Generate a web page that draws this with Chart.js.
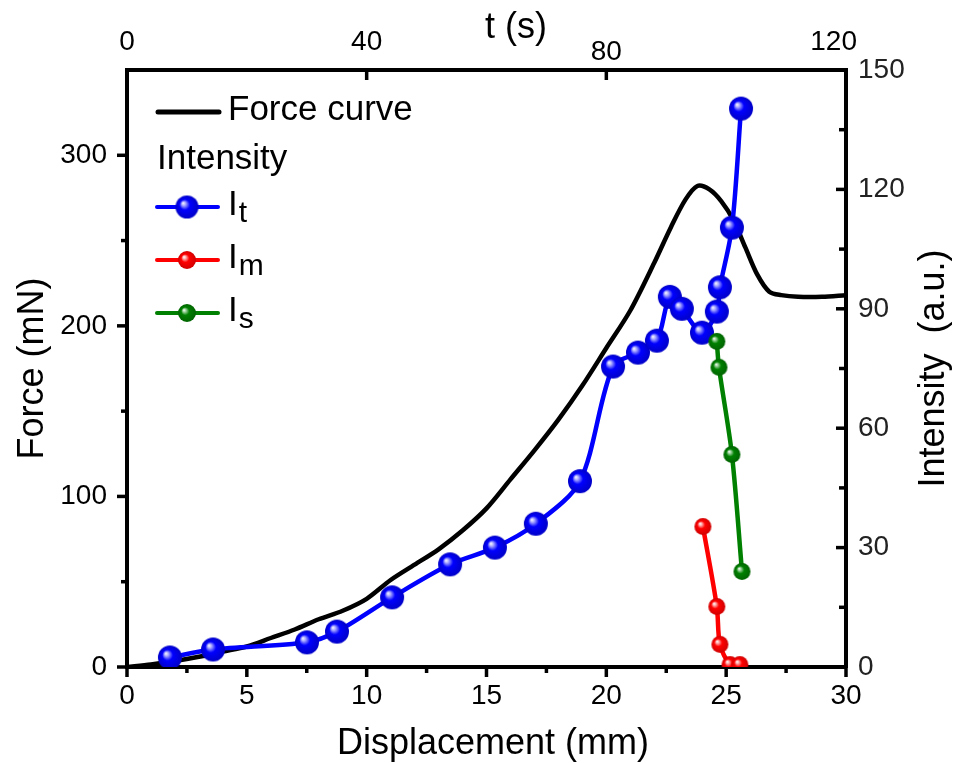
<!DOCTYPE html>
<html>
<head>
<meta charset="utf-8">
<script src="https://cdn.jsdelivr.net/npm/chart.js@4.4.1/dist/chart.umd.min.js"></script>
<style>
  html, body { margin: 0; padding: 0; background: #fff; }
  #wrap { width: 959px; height: 763px; }
</style>
</head>
<body>
<div id="wrap"><canvas id="chart"></canvas></div>
<script>
// courbe de force (deplacement en mm, force en mN)
const forceDisp = [0, 1, 2, 3, 4, 5, 6, 7, 8, 9, 10, 11, 12, 13, 14, 15, 16, 17, 18, 19, 20, 21, 22, 22.7, 23.3, 23.8, 24.3, 24.8, 25.3, 25.8, 26.3, 26.8, 27.3, 28, 29, 30];
const forceVal  = [0, 1.5, 3.5, 6, 9, 12, 17, 22, 28, 33, 40, 51, 60, 69, 80, 93, 110, 127, 145, 165, 187, 209, 237, 258, 274, 282, 280, 273, 262, 246, 230, 220, 218, 217, 217, 218];

// intensites (u.a.)
const itDisp = [1.79, 3.59, 7.51, 8.76, 11.06, 13.48, 15.35, 17.06, 18.9, 20.28, 21.32, 22.11, 22.65, 23.15, 23.99, 24.61, 24.74, 25.24, 25.62];
const itVal  = [2.4, 4.4, 6.2, 8.9, 17.5, 25.8, 30, 36, 46.7, 75.5, 79, 82, 93, 90, 84, 89.3, 95.4, 110.4, 140.3];

const imDisp = [24.03, 24.61, 24.74, 25.16, 25.57];
const imVal  = [35.3, 15.2, 5.7, 0.6, 0.6];

const isDisp = [24.61, 24.70, 25.24, 25.66];
const isVal  = [81.8, 75.3, 53.4, 24];

// graduations
const dispTicks = [0, 5, 10, 15, 20, 25, 30];
const forceTicks = [0, 100, 200, 300];
const intensityTicks = [0, 30, 60, 90, 120, 150];
const timeTicks = [0, 40, 80, 120];

const FONT = '"Liberation Sans", Arial, sans-serif';
Chart.defaults.font.family = FONT;
Chart.defaults.color = '#000';

const toPoints = (xs, ys) => xs.map((x, i) => ({ x: x, y: ys[i] }));
const midpoints = arr => arr.slice(1).map((v, i) => (v + arr[i]) / 2);

// petite sphere avec reflet (comme dans Origin)
function sphere(color, light, dark, r) {
  const c = document.createElement('canvas');
  const s = Math.ceil(r * 2) + 2;
  c.width = c.height = s;
  const g = c.getContext('2d');
  const m = s / 2;
  const grad = g.createRadialGradient(m - r * 0.35, m - r * 0.35, 0, m, m, r);
  grad.addColorStop(0, '#ffffff');
  grad.addColorStop(0.15, light);
  grad.addColorStop(0.45, color);
  grad.addColorStop(1, dark);
  g.fillStyle = grad;
  g.beginPath();
  g.arc(m, m, r, 0, Math.PI * 2);
  g.fill();
  return c;
}

const blueBall = sphere('#0000ff', '#b8b8ff', '#0000c8', 12);
const redBall = sphere('#ff0000', '#ffc0c0', '#d00000', 8.5);
const greenBall = sphere('#008000', '#b0dcb0', '#006400', 8.5);
const blueBallLeg = sphere('#0000ff', '#b8b8ff', '#0000c8', 11.5);
const redBallLeg = sphere('#ff0000', '#ffc0c0', '#d00000', 9);
const greenBallLeg = sphere('#008000', '#b0dcb0', '#006400', 9);

// ticks, titres et legende dessines a la main
const extras = {
  id: 'extras',
  afterDraw(chart) {
    const ctx = chart.ctx;
    const a = chart.chartArea;
    const s = chart.scales;
    ctx.save();
    ctx.strokeStyle = '#000';
    ctx.lineWidth = 3.5;

    function marks(scale, values, len, side) {
      values.forEach(v => {
        const p = scale.getPixelForValue(v);
        ctx.beginPath();
        if (side === 'bottom') { ctx.moveTo(p, a.bottom); ctx.lineTo(p, a.bottom + len); }
        if (side === 'top')    { ctx.moveTo(p, a.top); ctx.lineTo(p, a.top + len); }
        if (side === 'left')   { ctx.moveTo(a.left, p); ctx.lineTo(a.left - len, p); }
        if (side === 'right')  { ctx.moveTo(a.right, p); ctx.lineTo(a.right - len, p); }
        ctx.stroke();
      });
    }
    marks(s.x, dispTicks, 10, 'bottom');
    marks(s.x, midpoints(dispTicks), 6, 'bottom');
    marks(s.y, forceTicks, 10, 'left');
    marks(s.y, midpoints(forceTicks), 6, 'left');
    marks(s.y2, intensityTicks, 10, 'right');
    marks(s.y2, midpoints(intensityTicks), 7, 'right');
    marks(s.x2, timeTicks, 10, 'top');

    // etiquettes de l'axe du haut (le "80" est plus bas, le "120" decale a gauche dans l'original)
    ctx.fillStyle = '#000';
    ctx.font = '28px ' + FONT;
    ctx.textBaseline = 'middle';
    timeTicks.forEach((v, i) => {
      const p = s.x2.getPixelForValue(v);
      const last = i === timeTicks.length - 1;
      ctx.textAlign = last ? 'right' : 'center';
      ctx.fillText(String(v), last ? p + 11 : p, a.top - (v === 80 ? 18 : 28));
    });

    // titres des axes
    ctx.textAlign = 'center';
    ctx.font = '36px ' + FONT;
    ctx.fillText('t (s)', 516, 28);
    ctx.fillText('Displacement (mm)', 493, 744);
    ctx.save();
    ctx.translate(33, (a.top + a.bottom) / 2);
    ctx.rotate(-Math.PI / 2);
    ctx.fillText('Force (mN)', 0, 0);
    ctx.restore();
    ctx.save();
    ctx.translate(934, (a.top + a.bottom) / 2);
    ctx.rotate(-Math.PI / 2);
    ctx.fillText('Intensity  (a.u.)', 0, 0);
    ctx.restore();

    // legende
    ctx.textAlign = 'left';
    ctx.lineCap = 'round';
    ctx.strokeStyle = '#000';
    ctx.lineWidth = 5;
    ctx.beginPath(); ctx.moveTo(158, 112); ctx.lineTo(219, 112); ctx.stroke();
    ctx.font = '35px ' + FONT;
    ctx.fillText('Force curve', 228, 110);
    ctx.fillText('Intensity', 157, 159);

    const rows = [
      { y: 207, color: '#0000ff', ball: blueBallLeg, sub: 't' },
      { y: 260, color: '#ff0000', ball: redBallLeg, sub: 'm' },
      { y: 313, color: '#008000', ball: greenBallLeg, sub: 's' }
    ];
    rows.forEach(r => {
      ctx.strokeStyle = r.color;
      ctx.lineWidth = 4;
      ctx.beginPath(); ctx.moveTo(157, r.y); ctx.lineTo(218, r.y); ctx.stroke();
      ctx.drawImage(r.ball, 187 - r.ball.width / 2, r.y - r.ball.height / 2);
      ctx.fillStyle = '#000';
      ctx.font = '35px ' + FONT;
      ctx.fillText('I', 228, r.y - 2);
      const w = ctx.measureText('I').width;
      ctx.font = '30px ' + FONT;
      ctx.fillText(r.sub, 228 + w + 1, r.y + 7);
    });
    ctx.restore();
  }
};

const fixedTicks = list => scale => { scale.ticks = list.map(v => ({ value: v })); };

new Chart(document.getElementById('chart'), {
  type: 'line',
  data: {
    datasets: [
      {
        label: 'Is',
        data: toPoints(isDisp, isVal),
        yAxisID: 'y2',
        borderColor: '#008000',
        borderWidth: 4.5,
        pointStyle: greenBall,
        pointRadius: 8.5,
        tension: 0.3,
        order: 1
      },
      {
        label: 'Im',
        data: toPoints(imDisp, imVal),
        yAxisID: 'y2',
        borderColor: '#ff0000',
        borderWidth: 4.5,
        pointStyle: redBall,
        pointRadius: 8.5,
        tension: 0.3,
        order: 2
      },
      {
        label: 'It',
        data: toPoints(itDisp, itVal),
        yAxisID: 'y2',
        borderColor: '#0000ff',
        borderWidth: 4.5,
        pointStyle: blueBall,
        pointRadius: 12,
        tension: 0.3,
        order: 3
      },
      {
        label: 'Force curve',
        data: toPoints(forceDisp, forceVal),
        yAxisID: 'y',
        borderColor: '#000',
        borderWidth: 4.5,
        pointRadius: 0,
        tension: 0.3,
        order: 4
      }
    ]
  },
  options: {
    responsive: true,
    maintainAspectRatio: false,
    animation: false,
    events: [],
    layout: { padding: 0 },
    plugins: { legend: { display: false }, tooltip: { enabled: false } },
    scales: {
      x: {
        type: 'linear', position: 'bottom', min: 0, max: 30,
        afterBuildTicks: fixedTicks(dispTicks),
        afterFit: sc => { sc.height = 96; },
        grid: { display: false, drawTicks: false },
        border: { display: true, color: '#000', width: 4 },
        ticks: { font: { size: 28 }, padding: 12, maxRotation: 0 }
      },
      x2: {
        type: 'linear', position: 'top', min: 0, max: 120,
        afterBuildTicks: fixedTicks(timeTicks),
        afterFit: sc => { sc.height = 70; },
        grid: { display: false, drawTicks: false },
        border: { display: true, color: '#000', width: 4 },
        ticks: { display: false }
      },
      y: {
        type: 'linear', position: 'left', min: 0, max: 350,
        afterBuildTicks: fixedTicks(forceTicks),
        afterFit: sc => { sc.width = 127; },
        grid: { display: false, drawTicks: false },
        border: { display: true, color: '#000', width: 4 },
        ticks: { font: { size: 28 }, padding: 20 }
      },
      y2: {
        type: 'linear', position: 'right', min: 0, max: 150,
        afterBuildTicks: fixedTicks(intensityTicks),
        afterFit: sc => { sc.width = 113; },
        grid: { display: false, drawTicks: false },
        border: { display: true, color: '#000', width: 4 },
        ticks: { font: { size: 28 }, padding: 12, color: '#222' }
      }
    }
  },
  plugins: [extras]
});
</script>
</body>
</html>
